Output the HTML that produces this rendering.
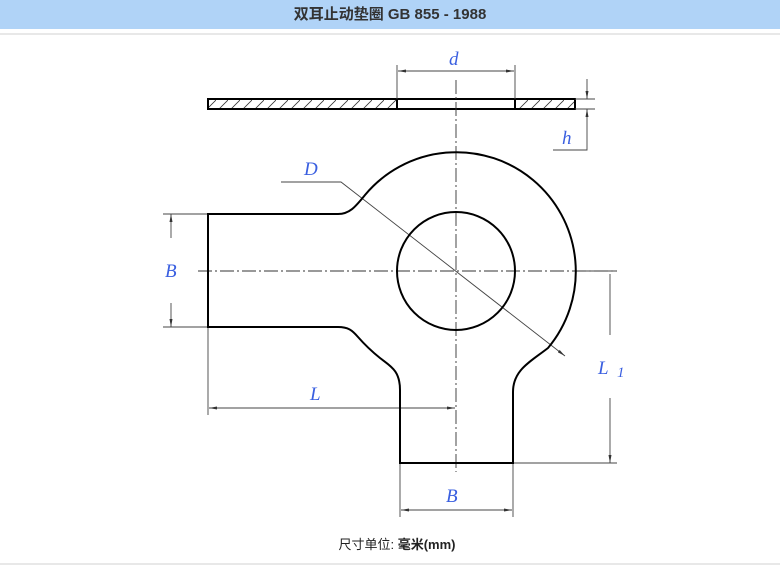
<!DOCTYPE html>
<html><head><meta charset="utf-8"><style>
html,body{margin:0;padding:0;background:#fff;width:780px;height:574px;overflow:hidden}
.hdr{position:absolute;left:0;top:0;width:780px;height:29px;background:#b0d3f7;text-align:center;font:bold 15px "Liberation Sans","Noto Sans CJK SC",sans-serif;color:#333;line-height:30px}
.l1{position:absolute;left:0;top:33px;width:780px;height:2px;background:#e8e8e8}
.l2{position:absolute;left:0;top:563px;width:780px;height:2px;background:#e8e8e8}
.ft{position:absolute;left:0;width:794px;top:534px;text-align:center;font:13px "Liberation Sans","Noto Sans CJK SC",sans-serif;color:#222}
svg{position:absolute;left:0;top:0}
</style></head><body>
<div class="hdr">双耳止动垫圈 GB 855 - 1988</div>
<div class="l1"></div>
<svg width="780" height="574" viewBox="0 0 780 574">
<defs>
<pattern id="h" width="12" height="10" patternUnits="userSpaceOnUse"><line x1="2" y1="10" x2="12" y2="0" stroke="#333" stroke-width="0.8"/></pattern>
<marker id="a" markerWidth="8" markerHeight="6" refX="8" refY="3" orient="auto-start-reverse" markerUnits="userSpaceOnUse"><path d="M0,1.5 L8,3 L0,4.5z" fill="#333"/></marker>
</defs>
<g font-family="Liberation Serif,serif" font-style="italic" font-size="19" fill="#3a5fe0">
<text x="449" y="65">d</text><text x="562" y="144">h</text><text x="304" y="175">D</text>
<text x="165" y="277">B</text><text x="310" y="400">L</text><text x="598" y="374">L</text><text x="617" y="377" font-size="15">1</text>
<text x="446" y="502">B</text>
</g>
<rect x="208" y="99" width="189" height="10" fill="url(#h)" stroke="#000" stroke-width="2"/>
<rect x="515" y="99" width="60" height="10" fill="url(#h)" stroke="#000" stroke-width="2"/>
<rect x="397" y="99" width="118" height="10" fill="none" stroke="#000" stroke-width="2"/>
<g stroke="#444" stroke-width="0.9" fill="none">
<line x1="397" y1="65" x2="397" y2="99"/><line x1="515" y1="65" x2="515" y2="99"/>
<line x1="398" y1="71" x2="514" y2="71" marker-start="url(#a)" marker-end="url(#a)"/>
<line x1="575" y1="99" x2="595" y2="99"/><line x1="575" y1="109" x2="595" y2="109"/>
<line x1="587" y1="79" x2="587" y2="99" marker-end="url(#a)"/>
<polyline points="553,150 587,150 587,109" marker-end="url(#a)"/>
<polyline points="281,182 341,182 565,356" marker-end="url(#a)"/>
<line x1="163" y1="214" x2="208" y2="214"/><line x1="163" y1="327" x2="208" y2="327"/>
<line x1="171" y1="238" x2="171" y2="214" marker-end="url(#a)"/>
<line x1="171" y1="303" x2="171" y2="327" marker-end="url(#a)"/>
<line x1="208" y1="327" x2="208" y2="415"/>
<line x1="209" y1="408" x2="455" y2="408" marker-start="url(#a)" marker-end="url(#a)"/>
<line x1="575" y1="271" x2="617" y2="271"/><line x1="513" y1="463" x2="617" y2="463"/>
<line x1="610" y1="274" x2="610" y2="335"/>
<line x1="610" y1="398" x2="610" y2="463" marker-end="url(#a)"/>
<line x1="400" y1="463" x2="400" y2="517"/><line x1="513" y1="463" x2="513" y2="517"/>
<line x1="401" y1="510" x2="512" y2="510" marker-start="url(#a)" marker-end="url(#a)"/>
</g>
<g stroke="#333" stroke-width="0.9" stroke-dasharray="14,3,2,3">
<line x1="198" y1="271" x2="617" y2="271"/><line x1="456" y1="80" x2="456" y2="472"/>
</g>
<path d="M208 214 L338 214 C350 214 356 206 365 195 A118 118 0 1 1 548 348 C530 362 513 370 513 392 L513 463 L400 463 L400 390 C400 370 390 366 380 358 C370 350 365 345 358 337 C352 330 348 327 338 327 L208 327 Z" fill="none" stroke="#000" stroke-width="2"/>
<circle cx="456" cy="271" r="59" fill="none" stroke="#000" stroke-width="2"/>
</svg>
<div class="ft">尺寸单位: <b>毫米(mm)</b></div>
<div class="l2"></div>
</body></html>
